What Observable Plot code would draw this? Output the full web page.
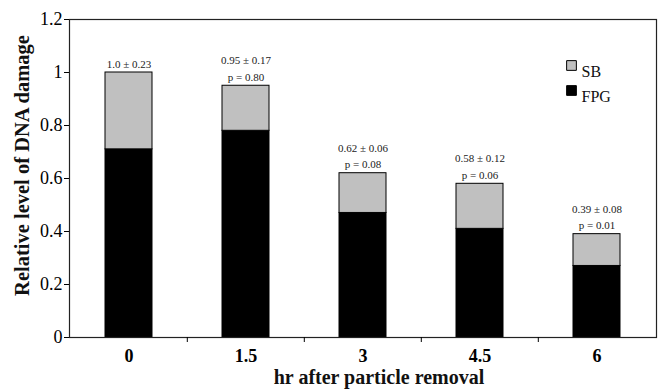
<!DOCTYPE html>
<html>
<head>
<meta charset="utf-8">
<script src="https://cdn.jsdelivr.net/npm/d3@7"></script>
<script src="https://cdn.jsdelivr.net/npm/@observablehq/plot@0.6"></script>
<style>
  html, body { margin: 0; padding: 0; background: #fff; }
  #chart svg { display: block; }
</style>
</head>
<body>
<div id="chart"></div>
<script>
// ---- data ----
const hours = ["0", "1.5", "3", "4.5", "6"];
const fpg = [0.71, 0.78, 0.47, 0.41, 0.27];
const total = [1.0, 0.95, 0.62, 0.58, 0.39];
const meanLabels = ["1.0 ± 0.23", "0.95 ± 0.17", "0.62 ± 0.06", "0.58 ± 0.12", "0.39 ± 0.08"];
const pLabels = ["", "p = 0.80", "p = 0.08", "p = 0.06", "p = 0.01"];
const series = ["SB", "FPG"];
const seriesColors = ["#c0c0c0", "#000000"];
const yTicks = [0, 0.2, 0.4, 0.6, 0.8, 1.0, 1.2];

// ---- derived table ----
const stacked = [];
hours.forEach((h, i) => {
  stacked.push({hour: h, series: "FPG", y1: 0, y2: fpg[i]});
  stacked.push({hour: h, series: "SB", y1: fpg[i], y2: total[i]});
});
const annot = hours.map((h, i) => ({
  hour: h, total: total[i],
  text: pLabels[i] ? meanLabels[i] + "\n" + pLabels[i] : meanLabels[i]
}));

const W = 659, H = 391;
const mL = 69, mR = 3, mT = 19, mB = 54;
const step = (W - mL - mR) / hours.length;

const serif = "'Liberation Serif', 'Times New Roman', serif";

const legendMarks = series.flatMap((s, i) => [
  Plot.dot([s], {frameAnchor: "top-right", dx: -85, dy: 46 + 25 * i, symbol: "square", r: 5.5,
    fill: d => d, stroke: "#000", strokeWidth: 1}),
  Plot.text([s], {frameAnchor: "top-right", dx: -75, dy: 46 + 25 * i, text: d => d,
    textAnchor: "start", fontSize: 16, fill: "#111"})
]);

const chart = Plot.plot({
  width: W, height: H,
  marginLeft: mL, marginRight: mR, marginTop: mT, marginBottom: mB,
  style: {fontFamily: serif, background: "#fff", color: "#000"},
  x: {type: "band", domain: hours, paddingInner: 0.6, paddingOuter: 0.3, align: 0.5},
  y: {domain: [0, 1.2]},
  color: {domain: series, range: seriesColors},
  marks: [
    Plot.rectY(stacked, {x: "hour", y1: "y1", y2: "y2", fill: "series", stroke: "#000", strokeWidth: 1}),
    Plot.text(annot, {x: "hour", y: "total", text: "text", lineAnchor: "bottom", dy: -5,
      fontSize: 11, lineHeight: 1.5, fill: "#222"}),
    Plot.frame({stroke: "#222", strokeWidth: 1.2}),
    Plot.axisY({ticks: yTicks, tickSize: 5, tickFormat: d => d3.format("")(+d.toFixed(1)),
      fontSize: 18, tickPadding: 2, label: null}),
    Plot.text(["Relative level of DNA damage"], {frameAnchor: "left", text: d => d, rotate: -90,
      textAnchor: "middle", dx: -47, dy: -13, fontSize: 20.5, fontWeight: "bold", fill: "#111"}),
    Plot.axisX({tickSize: 0, tickPadding: 12, fontSize: 18, fontWeight: "bold",
      label: null}),
    Plot.text(["hr after particle removal"], {frameAnchor: "bottom", text: d => d,
      dx: 16, dy: 46, fontSize: 20, fontWeight: "bold", fill: "#111"}),
    Plot.axisX(hours.slice(1), {tickSize: 5, dx: -step / 2, tickFormat: () => "", label: null}),
    ...legendMarks
  ]
});
document.getElementById("chart").appendChild(chart);
</script>
</body>
</html>
